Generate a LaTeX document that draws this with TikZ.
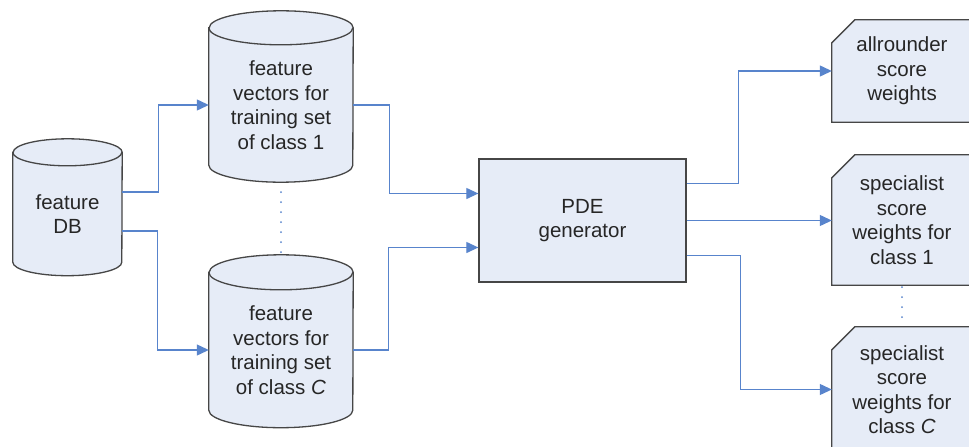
\documentclass[tikz,border=0pt]{standalone}
\usepackage{fontspec}
\setmainfont{Liberation Sans}
\usetikzlibrary{arrows.meta,backgrounds}

\definecolor{boxfill}{RGB}{230,236,247}
\definecolor{boxline}{RGB}{70,70,70}
\definecolor{wireblue}{RGB}{88,132,204}
\definecolor{ink}{RGB}{38,38,38}

\tikzset{
  txt/.style={text=ink, align=center, inner sep=0pt,
              font=\fontsize{20.5}{24.5}\selectfont},
  shapeline/.style={draw=boxline, fill=boxfill, line width=1.3pt, line join=miter},
  wire/.style={draw=wireblue, line width=1.2pt,
               -{Triangle[length=12pt,width=11pt]}},
  dotline/.style={draw=wireblue, line width=2pt, line cap=round,
                  dash pattern=on 0pt off 10pt},
}

% cylinder around a node: #1 node (the body below the top ellipse), #2 x radius, #3 y radius
\newcommand\drawcyl[3]{%
  \path[shapeline] ([yshift=#3pt]#1.north west) -- (#1.south west)
    arc[start angle=180,end angle=360,x radius=#2pt,y radius=#3pt]
    -- ([yshift=#3pt]#1.north east)
    arc[start angle=0,end angle=180,x radius=#2pt,y radius=#3pt] -- cycle;
  \draw[draw=boxline, line width=1.3pt] ([yshift=#3pt]#1.north west)
    arc[start angle=180,end angle=360,x radius=#2pt,y radius=#3pt];
}
% card with a cut top-left corner: #1 node, #2 size of the cut
\newcommand\drawcard[2]{%
  \path[shapeline] ([yshift=-#2pt]#1.north west) -- ([xshift=#2pt]#1.north west)
    -- (#1.north east) -- (#1.south east) -- (#1.south west) -- cycle;
}

\begin{document}
\begin{tikzpicture}[x=1pt,y=1pt]
  \useasboundingbox (0,0) rectangle (969,-447);
  \clip (0,0) rectangle (969,-447);

  % stores
  \node[txt, minimum width=109pt, minimum height=96pt] (db) at (67.5,-214) {feature\\DB};
  \node[txt, minimum width=144pt, minimum height=120pt] (c1) at (281,-105)
    {feature\\vectors for\\training set\\of class 1};
  \node[txt, minimum width=144pt, minimum height=120pt] (cC) at (281,-350)
    {feature\\vectors for\\training set\\of class \textit{C}};

  % generator
  \node[txt, shapeline, minimum width=207pt, minimum height=123pt] (pde) at (582.5,-220.5)
    {PDE\\generator};

  % outputs
  \node[txt, minimum width=140pt, minimum height=102pt] (all) at (902,-71)
    {allrounder\\score\\weights};
  \node[txt, minimum width=140pt, minimum height=130pt] (s1) at (902,-220)
    {specialist\\score\\weights for\\class 1};
  \node[txt, minimum width=140pt, minimum height=125pt] (sC) at (902,-389.5)
    {specialist\\score\\weights for\\class \textit{C}};

  \begin{scope}[on background layer]
    \fill[white] (0,0) rectangle (969,-447);
    \drawcyl{db}{54.5}{13.5}
    \drawcyl{c1}{72}{17}
    \drawcyl{cC}{72}{17.5}
    \drawcard{all}{23}
    \drawcard{s1}{23}
    \drawcard{sC}{23}
  \end{scope}

  % data flow
  \draw[wire] ([yshift=22pt]db.east) -- ++(36,0) |- (c1.west);
  \draw[wire] ([yshift=-17pt]db.east) -- ++(35,0) |- (cC.west);
  \draw[wire] (c1.east) -- ++(36,0) |- ([yshift=27pt]pde.west);
  \draw[wire] (cC.east) -- ++(35,0) |- ([yshift=-27pt]pde.west);
  \draw[wire] ([yshift=37pt]pde.east) -- ++(52,0) |- (all.west);
  \draw[wire] (pde.east) -- (pde.east -| s1.west);
  \draw[wire] ([yshift=-35pt]pde.east) -- ++(54,0) |- (sC.west);

  % elided classes
  \draw[dotline] ([yshift=-27pt]c1.south) -- ([yshift=37pt]cC.north);
  \draw[dotline] ([yshift=-2pt]s1.south) -- ([yshift=9.5pt]sC.north);
\end{tikzpicture}
\end{document}
